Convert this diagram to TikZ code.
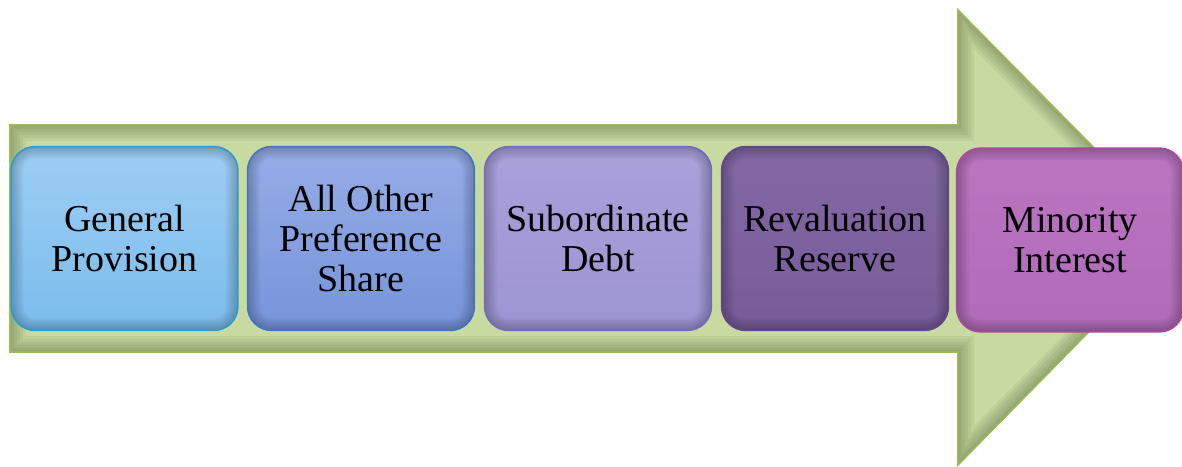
\documentclass[tikz,border=0pt]{standalone}
\usepackage{fontspec}
\setmainfont{Liberation Serif}
\definecolor{arrowfill}{RGB}{201,218,161}
\definecolor{arrowline}{RGB}{155,187,89}
\definecolor{provtop}{RGB}{157,205,244}
\definecolor{provbot}{RGB}{122,188,236}
\definecolor{provline}{RGB}{46,155,205}
\definecolor{preftop}{RGB}{150,172,230}
\definecolor{prefbot}{RGB}{118,148,218}
\definecolor{prefline}{RGB}{62,118,196}
\definecolor{debttop}{RGB}{170,160,218}
\definecolor{debtbot}{RGB}{156,148,210}
\definecolor{debtline}{RGB}{118,104,186}
\definecolor{revtop}{RGB}{132,104,166}
\definecolor{revbot}{RGB}{120,92,154}
\definecolor{revline}{RGB}{96,70,134}
\definecolor{mintop}{RGB}{186,116,192}
\definecolor{minbot}{RGB}{176,106,184}
\definecolor{minline}{RGB}{168,72,160}
\tikzset{
  stagebox/.style={rectangle, rounded corners=12pt, minimum width=113pt,
    minimum height=91.5pt, align=center, inner sep=2pt,
    font=\fontsize{19}{20}\selectfont},
}
% dark rim inside a box, then its border again
\newcommand{\innerglow}[2]{%
  \begin{scope}
    \clip[rounded corners=12pt] (#1.south west) rectangle (#1.north east);
    \foreach \w in {12,10,8,6,4,2}
      \draw[rounded corners=12pt, line width=\w pt, black, opacity=.04]
        (#1.south west) rectangle (#1.north east);
  \end{scope}
  \draw[rounded corners=12pt, line width=.8pt, #2]
    (#1.south west) rectangle (#1.north east);
}
\newcommand{\arrowpath}{(10,125) -- (958,125) -- (958,10) -- (1182,237)
  -- (958,465) -- (958,352) -- (10,352) -- cycle}
\begin{document}
\begin{tikzpicture}[x=0.5pt, y=-0.5pt]
  \useasboundingbox (0,0) rectangle (1182,466);
  % the big arrow
  \fill[arrowfill] \arrowpath;
  \begin{scope}
    \clip \arrowpath;
    \foreach \w in {16,13,10,7,4,2}
      \draw[line width=\w pt, black!60!arrowline, opacity=.07] \arrowpath;
  \end{scope}
  \draw[arrowline, line width=.8pt] \arrowpath;
  % the five stages
  \node[stagebox, top color=provtop, bottom color=provbot] (prov)
    at (124.5,238.5) {General\\Provision};
  \node[stagebox, top color=preftop, bottom color=prefbot] (pref)
    at (361,238.5) {All Other\\Preference\\Share};
  \node[stagebox, top color=debttop, bottom color=debtbot] (debt)
    at (598,238.5) {Subordinate\\Debt};
  \node[stagebox, top color=revtop, bottom color=revbot] (rev)
    at (835,238.5) {Revaluation\\Reserve};
  \node[stagebox, top color=mintop, bottom color=minbot] (min)
    at (1070,240) {Minority\\Interest};
  \innerglow{prov}{provline}
  \innerglow{pref}{prefline}
  \innerglow{debt}{debtline}
  \innerglow{rev}{revline}
  \innerglow{min}{minline}
\end{tikzpicture}
\end{document}
